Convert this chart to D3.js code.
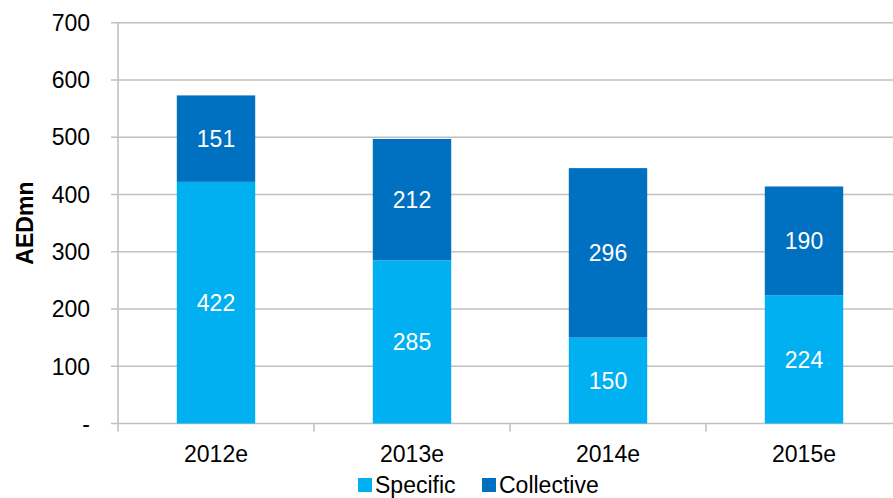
<!DOCTYPE html>
<html>
<head>
<meta charset="utf-8">
<script src="https://cdn.jsdelivr.net/npm/d3@7"></script>
<style>
  html, body { margin: 0; padding: 0; background: #fff; }
  svg { display: block; font-family: "Liberation Sans", Arial, sans-serif; }
</style>
</head>
<body>
<svg id="chart" width="893" height="498"></svg>
<script>
// Stacked spend by year, AED millions
const years = ["2012e", "2013e", "2014e", "2015e"];
const specific = [422, 285, 150, 224];
const collective = [151, 212, 296, 190];
const seriesNames = ["Specific", "Collective"];
const seriesColors = ["#00B0F0", "#0070C0"];
const yTicks = [0, 100, 200, 300, 400, 500, 600, 700];
const yTitle = "AEDmn";

(function draw() {
  const svg = d3.select("#chart");
  const W = 893;
  const fs = 23;
  const plotLeft = 118, plotRight = 902, plotTop = 22.7, plotBottom = 423.5;

  const x = d3.scaleBand().domain(years).range([plotLeft, plotRight]).paddingInner(0.6).paddingOuter(0.3);
  const xOuter = d3.scaleBand().domain(years).range([plotLeft, plotRight]);
  const y = d3.scaleLinear().domain([0, 700]).range([plotBottom, plotTop]);

  const rows = years.map((yr, i) => ({ year: yr, Specific: specific[i], Collective: collective[i] }));
  const stack = d3.stack().keys(seriesNames)(rows);

  // Horizontal gridlines
  svg.append("g")
    .selectAll("line")
    .data(yTicks)
    .join("line")
    .attr("x1", plotLeft - 7).attr("x2", W)
    .attr("y1", d => y(d)).attr("y2", d => y(d))
    .attr("stroke", "#C0C0C0").attr("stroke-width", 1.6);

  // Vertical axis line
  svg.append("line")
    .attr("x1", plotLeft).attr("x2", plotLeft)
    .attr("y1", plotTop).attr("y2", plotBottom + 8)
    .attr("stroke", "#C0C0C0").attr("stroke-width", 1.6);

  // Category boundary ticks on the x axis
  svg.append("g")
    .selectAll("line")
    .data(years.slice(1))
    .join("line")
    .attr("x1", d => xOuter(d)).attr("x2", d => xOuter(d))
    .attr("y1", plotBottom).attr("y2", plotBottom + 8)
    .attr("stroke", "#C0C0C0").attr("stroke-width", 1.6);

  // Bars
  const layers = svg.append("g")
    .selectAll("g")
    .data(stack)
    .join("g")
    .attr("fill", (d, i) => seriesColors[i]);

  layers.selectAll("rect")
    .data(d => d)
    .join("rect")
    .attr("x", d => x(d.data.year))
    .attr("width", x.bandwidth())
    .attr("y", d => y(d[1]))
    .attr("height", d => y(d[0]) - y(d[1]));

  // Value labels centred in each segment
  layers.selectAll("text")
    .data(d => d)
    .join("text")
    .attr("x", d => x(d.data.year) + x.bandwidth() / 2)
    .attr("y", d => (y(d[0]) + y(d[1])) / 2)
    .attr("dy", "0.36em")
    .attr("text-anchor", "middle")
    .attr("fill", "#fff")
    .attr("font-size", fs)
    .text(d => d[1] - d[0]);

  // Y tick labels
  svg.append("g")
    .selectAll("text")
    .data(yTicks)
    .join("text")
    .attr("x", 90)
    .attr("y", d => y(d))
    .attr("dy", "0.36em")
    .attr("text-anchor", "end")
    .attr("font-size", fs)
    .attr("fill", "#000")
    .text(d => d === 0 ? "-" : d);

  // X category labels
  svg.append("g")
    .selectAll("text")
    .data(years)
    .join("text")
    .attr("x", d => xOuter(d) + xOuter.bandwidth() / 2)
    .attr("y", 462)
    .attr("text-anchor", "middle")
    .attr("font-size", fs)
    .attr("fill", "#000")
    .text(d => d);

  // Y axis title
  svg.append("text")
    .attr("transform", `translate(33, ${(plotTop + plotBottom) / 2}) rotate(-90)`)
    .attr("text-anchor", "middle")
    .attr("font-size", fs)
    .attr("font-weight", "bold")
    .attr("fill", "#000")
    .text(yTitle);

  // Legend
  const legendX = [358, 482];
  const legend = svg.append("g")
    .selectAll("g")
    .data(seriesNames)
    .join("g")
    .attr("transform", (d, i) => `translate(${legendX[i]}, 478)`);
  legend.append("rect")
    .attr("width", 14).attr("height", 14)
    .attr("fill", (d, i) => seriesColors[i]);
  legend.append("text")
    .attr("x", 17).attr("y", 14.5)
    .attr("font-size", fs)
    .attr("fill", "#000")
    .text(d => d);
})();
</script>
</body>
</html>
